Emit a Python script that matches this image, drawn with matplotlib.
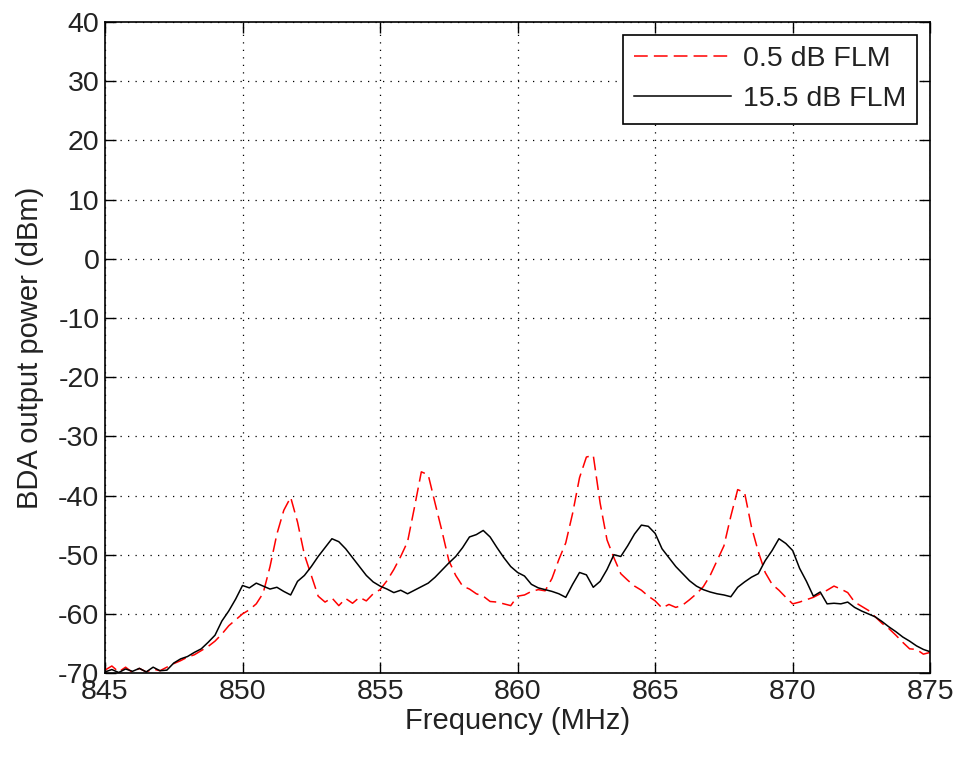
import numpy as np
import matplotlib
matplotlib.use('Agg')
import matplotlib.pyplot as plt

plt.rcParams['font.family'] = ['Liberation Sans', 'DejaVu Sans']
plt.rcParams['axes.unicode_minus'] = False

# Sweep grid (MHz), 0.25 MHz steps from 845 to 875
freq = np.linspace(845, 875, 121)

# 0.5 dB FLM trace (dBm)
flm_05 = [
    -69.5, -68.8, -69.8, -69.0, -69.9, -69.2, -69.8, -69.3, -69.6, -69.0,
    -68.4, -67.9, -67.3, -66.9, -66.2, -65.5, -64.6, -63.4, -62.0, -61.0,
    -60.0, -59.3, -58.3, -56.5, -52.0, -46.5, -42.5, -40.3, -44.5, -50.0,
    -53.5, -57.0, -58.0, -57.3, -58.6, -57.4, -58.2, -57.2, -57.8, -56.6,
    -55.9, -54.4, -52.5, -50.3, -47.8, -42.0, -36.0, -36.5, -41.3, -46.0,
    -51.0, -53.5, -55.3, -55.8, -56.6, -57.0, -57.9, -58.0, -58.3, -58.6,
    -57.0, -56.8, -56.2, -55.9, -56.1, -54.0, -50.8, -48.0, -43.0, -37.0,
    -33.5, -33.2, -41.3, -47.5, -50.5, -53.2, -54.3, -55.3, -56.0, -57.0,
    -57.8, -59.0, -58.4, -58.9, -58.5, -57.6, -56.6, -55.4, -53.5, -51.0,
    -48.5, -43.5, -39.0, -39.5, -45.3, -49.5, -53.0, -55.0, -56.0, -57.2,
    -58.3, -58.0, -57.6, -57.2, -56.6, -56.0, -55.3, -55.8, -56.4, -58.0,
    -58.7, -59.4, -60.5, -61.6, -62.5, -63.6, -64.8, -65.9, -66.0, -66.8,
    -66.5,
]

# 15.5 dB FLM trace (dBm)
flm_155 = [
    -69.8, -69.4, -69.9, -69.3, -69.7, -69.2, -69.8, -69.0, -69.6, -69.5,
    -68.3, -67.6, -67.2, -66.5, -65.9, -64.8, -63.6, -61.2, -59.5, -57.5,
    -55.2, -55.6, -54.8, -55.3, -55.8, -55.5, -56.2, -56.8, -54.5, -53.5,
    -52.0, -50.3, -48.8, -47.3, -47.8, -49.0, -50.5, -52.0, -53.5, -54.6,
    -55.3, -55.8, -56.4, -56.0, -56.6, -56.0, -55.4, -54.8, -53.8, -52.6,
    -51.4, -50.3, -48.8, -47.0, -46.6, -45.9, -47.0, -48.8, -50.5, -52.0,
    -53.0, -53.6, -55.0, -55.6, -55.9, -56.2, -56.6, -57.2, -55.0, -53.0,
    -53.4, -55.5, -54.5, -52.5, -50.0, -50.3, -48.5, -46.5, -45.0, -45.2,
    -46.4, -49.0, -50.5, -52.0, -53.2, -54.4, -55.3, -55.9, -56.3, -56.6,
    -56.8, -57.1, -55.5, -54.6, -53.8, -53.2, -51.0, -49.3, -47.3, -48.1,
    -49.3, -52.3, -54.5, -57.0, -56.3, -58.3, -58.2, -58.3, -58.0, -58.9,
    -59.5, -60.0, -60.5, -61.3, -62.2, -63.0, -63.9, -64.6, -65.4, -66.0,
    -66.4,
]

x_ticks = [845, 850, 855, 860, 865, 870, 875]
y_ticks = [-70, -60, -50, -40, -30, -20, -10, 0, 10, 20, 30, 40]

fig = plt.figure(figsize=(9.63, 7.58), dpi=100)
ax = fig.add_axes([0.109, 0.112, 0.857, 0.859])

ax.plot(freq, flm_05, color='red', linestyle=(0, (9, 4)), linewidth=1.1,
        label='0.5 dB FLM')
ax.plot(freq, flm_155, color='black', linestyle='-', linewidth=1.1,
        label='15.5 dB FLM')

ax.set_xlim(845, 875)
ax.set_ylim(-70, 40)
ax.set_xticks(x_ticks)
ax.set_yticks(y_ticks)
ax.tick_params(direction='in', length=8, width=1, top=True, right=True,
               labelsize=20.5, pad=4, labelcolor='#222222')
ax.grid(True, color='black', linestyle=(0, (1, 5)), linewidth=0.9)
for s in ax.spines.values():
    s.set_linewidth(1.2)

ax.set_xlabel('Frequency (MHz)', fontsize=21, labelpad=2, color='#222222')
ax.set_ylabel('BDA output power (dBm)', fontsize=21, labelpad=10,
              color='#222222')

leg = ax.legend(loc='upper right', fontsize=20.5, fancybox=False,
                edgecolor='black', framealpha=1, handlelength=3.4,
                handletextpad=0.4, borderpad=0.4, labelspacing=0.5,
                borderaxespad=0.45)
leg.get_frame().set_linewidth(1.2)
for t in leg.get_texts():
    t.set_color('#222222')

fig.savefig('out.png', dpi=100)
